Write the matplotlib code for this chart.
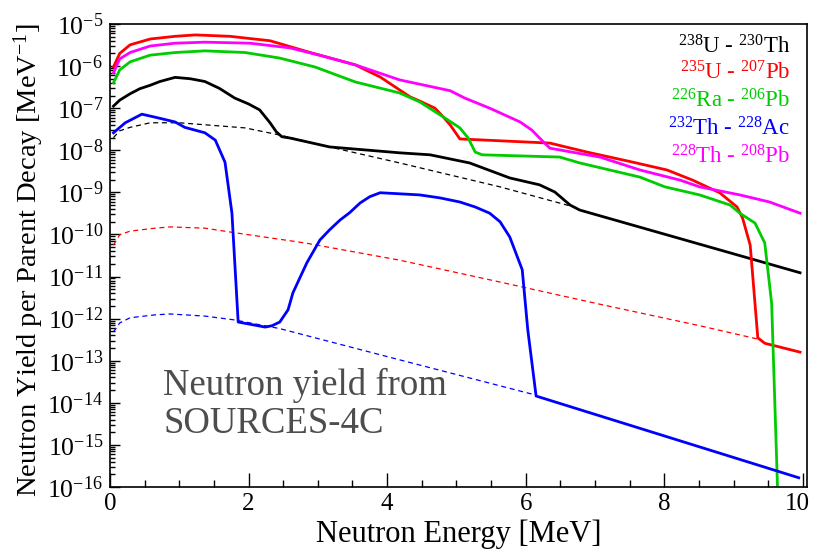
import matplotlib
matplotlib.use("Agg")
import matplotlib.pyplot as plt
from matplotlib.ticker import LogLocator, MultipleLocator, NullFormatter
from matplotlib.transforms import ScaledTranslation

plt.rcParams['font.family'] = ['Liberation Serif', 'DejaVu Serif']
plt.rcParams['mathtext.fontset'] = 'custom'
plt.rcParams['mathtext.rm'] = 'Liberation Serif'
plt.rcParams['mathtext.it'] = 'Liberation Serif:italic'

# --- data (energy in MeV, yield per MeV per decay) ---
u238_x = [0.05, 0.14, 0.29, 0.43, 0.58, 0.72, 0.94, 1.16, 1.37, 1.58, 1.80,
          2.00, 2.16, 2.31, 2.40, 2.48, 2.60, 3.17, 4.18, 4.62, 5.19, 5.77,
          6.20, 6.42, 6.64, 6.78, 9.96]
u238_y = [1.12e-7, 1.55e-7, 2.2e-7, 2.9e-7, 3.5e-7, 4.3e-7, 5.4e-7, 5.0e-7,
          4.3e-7, 2.95e-7, 1.74e-7, 1.26e-7, 9.1e-8, 4.5e-8, 2.75e-8, 2.1e-8,
          1.95e-8, 1.2e-8, 8.7e-9, 7.8e-9, 5.0e-9, 2.2e-9, 1.51e-9, 1.02e-9,
          5.0e-10, 3.8e-10, 1.23e-11]

u235_x = [0.05, 0.14, 0.29, 0.58, 0.94, 1.23, 1.73, 2.31, 2.89, 3.54, 3.90,
          4.33, 4.47, 4.69, 4.81, 4.91, 5.05, 6.35, 6.88, 7.55, 8.04, 8.41,
          8.80, 9.05, 9.13, 9.24, 9.35, 9.45, 9.96]
u235_y = [9.5e-7, 2.0e-6, 3.2e-6, 4.4e-6, 5.1e-6, 5.5e-6, 5.1e-6, 4.0e-6,
          2.1e-6, 1.07e-6, 5.5e-7, 1.86e-7, 1.48e-7, 1.0e-7, 6.2e-8, 4.0e-8,
          1.86e-8, 1.48e-8, 9.1e-9, 5.2e-9, 3.4e-9, 1.95e-9, 9.8e-10, 4.5e-10,
          2.45e-10, 5.6e-11, 3.5e-13, 2.6e-13, 1.6e-13]

ra226_x = [0.05, 0.14, 0.29, 0.58, 0.94, 1.37, 1.95, 2.45, 2.96, 3.54, 4.18,
           4.47, 4.83, 5.05, 5.17, 5.27, 5.37, 6.49, 6.78, 7.65, 8.01, 8.51,
           8.95, 9.09, 9.31, 9.45, 9.55, 9.64]
ra226_y = [4.0e-7, 8.1e-7, 1.26e-6, 1.82e-6, 2.1e-6, 2.3e-6, 2.1e-6, 1.55e-6,
           9.5e-7, 4.2e-7, 2.3e-7, 1.41e-7, 5.9e-8, 3.4e-8, 1.95e-8, 9.1e-9,
           7.8e-9, 6.9e-9, 5.0e-9, 2.3e-9, 1.35e-9, 8.7e-10, 5.0e-10, 3.2e-10,
           1.86e-10, 6.3e-11, 2.3e-12, 5e-17]

th232_x = [0.05, 0.22, 0.46, 0.69, 0.94, 1.08, 1.37, 1.52, 1.66, 1.76, 1.85,
           2.24, 2.34, 2.45, 2.57, 2.64, 2.84, 3.03, 3.17, 3.32, 3.46, 3.61,
           3.75, 3.90, 4.47, 4.76, 5.05, 5.27, 5.48, 5.63, 5.77, 5.95, 6.03,
           6.15, 9.94]
th232_y = [2.6e-8, 4.5e-8, 7.2e-8, 5.9e-8, 4.7e-8, 3.5e-8, 2.6e-8, 1.74e-8,
           5.2e-9, 3.2e-10, 8.3e-13, 6.3e-13, 6.8e-13, 8.3e-13, 1.62e-12,
           4.1e-12, 2.1e-11, 7.4e-11, 1.29e-10, 2.2e-10, 3.3e-10, 5.6e-10,
           7.9e-10, 9.8e-10, 8.7e-10, 7.4e-10, 5.9e-10, 4.5e-10, 3.2e-10,
           2.0e-10, 8.7e-11, 1.45e-11, 5.4e-13, 1.45e-14, 1.66e-16]

th228_x = [0.05, 0.14, 0.29, 0.58, 0.94, 1.37, 2.02, 2.60, 3.03, 3.54, 4.18,
           4.91, 5.12, 5.48, 5.92, 6.09, 6.23, 6.35, 7.07, 7.65, 8.23, 8.51,
           9.09, 9.52, 9.96]
th228_y = [6.9e-7, 1.48e-6, 2.1e-6, 3.0e-6, 3.5e-6, 3.7e-6, 3.5e-6, 2.7e-6,
           1.8e-6, 1.07e-6, 4.7e-7, 2.6e-7, 1.74e-7, 1.0e-7, 4.7e-8, 3.0e-8,
           1.74e-8, 1.12e-8, 6.9e-9, 3.4e-9, 1.95e-9, 1.35e-9, 8.7e-10,
           5.9e-10, 3.2e-10]

# dashed curves
u238_an_x = [0.05, 0.14, 0.29, 0.58, 1.0, 1.95, 2.45, 3.17, 4.18, 5.63, 6.74]
u238_an_y = [2.0e-8, 2.9e-8, 3.5e-8, 4.5e-8, 4.5e-8, 3.4e-8, 2.3e-8, 1.2e-8,
             5.0e-9, 1.35e-9, 4.3e-10]

u235_an_x = [0.05, 0.14, 0.29, 0.65, 0.87, 1.37, 1.80, 2.81, 4.18, 5.63, 7.07,
             8.51, 9.34]
u235_an_y = [5.6e-11, 9.8e-11, 1.2e-10, 1.41e-10, 1.51e-10, 1.41e-10, 1.1e-10,
             6.3e-11, 2.45e-11, 7.4e-12, 2.2e-12, 6.8e-13, 3.3e-13]

th232_an_x = [0.05, 0.14, 0.29, 0.65, 0.87, 1.37, 1.80, 2.45, 4.18, 6.13]
th232_an_y = [4.8e-13, 7.9e-13, 1.05e-12, 1.23e-12, 1.29e-12, 1.15e-12,
              9.3e-13, 5.8e-13, 1.05e-13, 1.55e-14]

labels = [r"$^{238}$U - $^{230}$Th", r"$^{235}$U - $^{207}$Pb",
          r"$^{226}$Ra - $^{206}$Pb", r"$^{232}$Th - $^{228}$Ac",
          r"$^{228}$Th - $^{208}$Pb"]
colors = ['black', '#ff0000', '#00cc00', '#0000ff', '#ff00ff']

fig = plt.figure(figsize=(8.14, 5.57), dpi=100)
ax = fig.add_axes([110/814, 1-487/557, 697/814, 463/557])

ax.plot(u238_an_x, u238_an_y, color='black', ls=(0, (4, 3)), lw=0.9)
ax.plot(u235_an_x, u235_an_y, color='#ff0000', ls=(0, (4, 3)), lw=0.9)
ax.plot(th232_an_x, th232_an_y, color='#0000ff', ls=(0, (4, 3)), lw=0.9)

ax.plot(u238_x, u238_y, color=colors[0], lw=2)
ax.plot(u235_x, u235_y, color=colors[1], lw=2)
ax.plot(ra226_x, ra226_y, color=colors[2], lw=2)
ax.plot(th232_x, th232_y, color=colors[3], lw=2)
ax.plot(th228_x, th228_y, color=colors[4], lw=2)

ax.set_yscale('log')
ax.set_xlim(0, 10.06)
ax.set_ylim(1e-16, 1e-5)

ax.yaxis.set_major_locator(LogLocator(base=10, numticks=20))
ax.yaxis.set_minor_locator(LogLocator(base=10, subs=range(2, 10), numticks=20))
ax.yaxis.set_minor_formatter(NullFormatter())
ax.xaxis.set_major_locator(MultipleLocator(2))
ax.xaxis.set_minor_locator(MultipleLocator(0.5))

ax.tick_params(which='both', direction='in', top=False, right=False,
               labelsize=18.5, width=1)
ax.tick_params(axis='x', labelsize=18)
ax.tick_params(axis='y', which='major', length=7.5, pad=5)
ax.tick_params(axis='y', which='minor', length=3.8)
ax.tick_params(axis='x', which='major', length=10, pad=4)
ax.tick_params(axis='x', which='minor', length=5)
for s in ax.spines.values():
    s.set_linewidth(1.2)

ax.set_xlabel("Neutron Energy [MeV]", fontsize=22)
ax.xaxis.set_label_coords(0.5, -0.07)
ax.set_ylabel(r"Neutron Yield per Parent Decay [MeV$^{-1}$]", fontsize=20.5)
ax.yaxis.set_label_coords(-0.092, 0.49)

baselines = [53, 80, 107, 135, 164]
for lab, c, yb in zip(labels, colors, baselines):
    fig.text(790/814, 1-yb/557, lab, color=c, fontsize=16.5,
             ha='right', va='baseline')

fig.text(163/814, 1-395/557, "Neutron yield from", color='#4d4d4d',
         fontsize=26.5, va='baseline')
fig.text(163/814, 1-433/557, "SOURCES-4C", color='#4d4d4d',
         fontsize=26.5, va='baseline')

# nudge the last x label so it stays inside the canvas
fig.canvas.draw()
for t in ax.xaxis.get_major_ticks():
    if abs(t.get_loc() - 10) < 1e-6:
        t.label1.set_transform(t.label1.get_transform() +
                               ScaledTranslation(-0.05, 0, fig.dpi_scale_trans))

fig.savefig("out.png", dpi=100)
